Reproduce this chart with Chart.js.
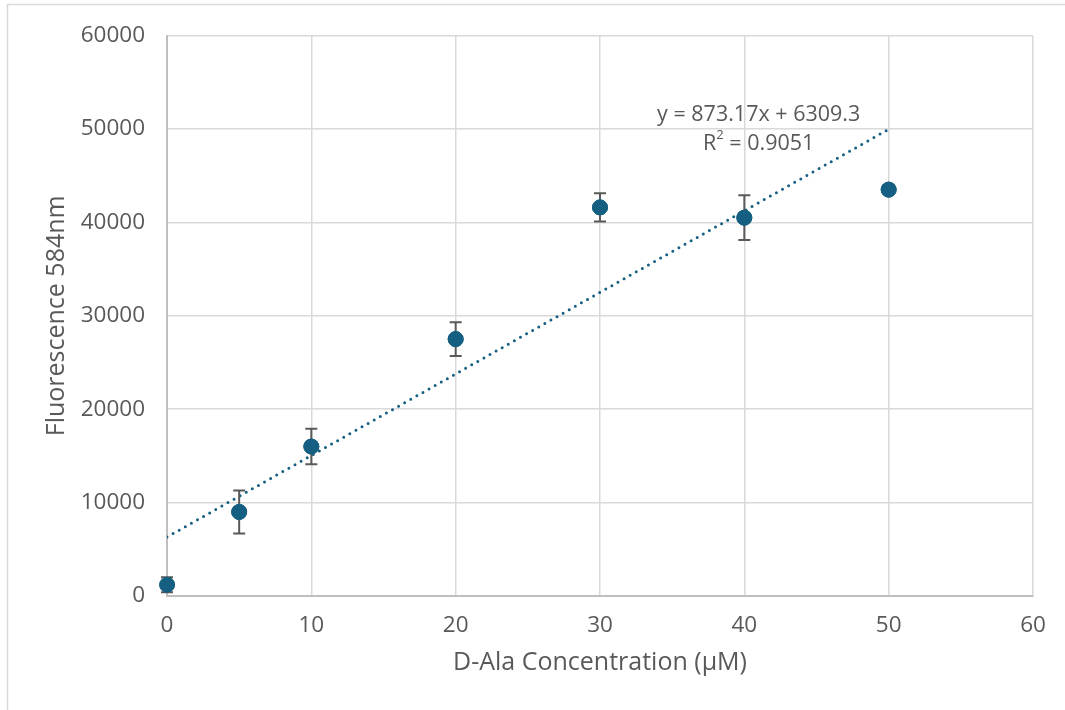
<!DOCTYPE html>
<html>
<head>
<meta charset="utf-8">
<script src="https://cdn.jsdelivr.net/npm/chart.js@4.4.1/dist/chart.umd.min.js"></script>
<style>
  html, body { margin: 0; padding: 0; background: #ffffff; }
  #wrap { width: 1065px; height: 710px; position: relative; }
</style>
</head>
<body>
<div id="wrap"><canvas id="c" width="1065" height="710"></canvas></div>
<script>
// ---- data ----
const concentrations = [0, 5, 10, 20, 30, 40, 50];
const fluorescence   = [1200, 9000, 16000, 27500, 41600, 40500, 43500];
const errors         = [800, 2300, 1900, 1800, 1500, 2400, 0];
const xTicks = [0, 10, 20, 30, 40, 50, 60];
const yTicks = [0, 10000, 20000, 30000, 40000, 50000, 60000];
const trendSlope = 873.17;
const trendIntercept = 6309.3;
const trendRange = [0, 50];
const trendEquation = "y = 873.17x + 6309.3";
const trendR2 = "0.9051";
const xTitle = "D-Ala Concentration (µM)";
const yTitle = "Fluorescence 584nm";

const FONT = "'Open Sans', 'Liberation Sans', sans-serif";
const TEXT = "#595959";
const BLUE = "#156082";

const points = concentrations.map((x, i) => ({ x: x, y: fluorescence[i] }));
const trendPoints = trendRange.map(x => ({ x: x, y: trendSlope * x + trendIntercept }));

const framePlugin = {
  id: 'frame',
  beforeDraw(chart) {
    const ctx = chart.ctx;
    ctx.save();
    ctx.fillStyle = '#ffffff';
    ctx.fillRect(0, 0, chart.width, chart.height);
    ctx.strokeStyle = '#d9d9d9';
    ctx.lineWidth = 1.5;
    ctx.beginPath();
    ctx.moveTo(7.5, chart.height);
    ctx.lineTo(7.5, 4.5);
    ctx.lineTo(chart.width, 4.5);
    ctx.stroke();
    ctx.restore();
  }
};

const errorBarPlugin = {
  id: 'errorBars',
  afterDatasetsDraw(chart) {
    const ctx = chart.ctx;
    const xs = chart.scales.x, ys = chart.scales.y;
    ctx.save();
    ctx.strokeStyle = '#595959';
    ctx.lineWidth = 2;
    concentrations.forEach((c, i) => {
      const e = errors[i];
      if (!e) return;
      const px = xs.getPixelForValue(c);
      const top = ys.getPixelForValue(fluorescence[i] + e);
      const bot = ys.getPixelForValue(Math.max(0, fluorescence[i] - e));
      ctx.beginPath();
      ctx.moveTo(px, top); ctx.lineTo(px, bot);
      ctx.moveTo(px - 6, top); ctx.lineTo(px + 6, top);
      ctx.moveTo(px - 6, bot); ctx.lineTo(px + 6, bot);
      ctx.stroke();
    });
    // redraw points over error bars
    const meta = chart.getDatasetMeta(1);
    meta.data.forEach(el => el.draw(ctx));
    ctx.restore();
  }
};

const trendLabelPlugin = {
  id: 'trendLabel',
  afterDraw(chart) {
    const ctx = chart.ctx;
    const xs = chart.scales.x, ys = chart.scales.y;
    const cx = xs.getPixelForValue(trendRange[1]) - 130;
    const cy = ys.getPixelForValue(trendSlope * trendRange[1] + trendIntercept) - 14;
    const big = "21.5px " + FONT, small = "13px " + FONT;
    ctx.save();
    ctx.fillStyle = TEXT;
    ctx.font = big;
    ctx.textBaseline = 'middle';
    ctx.textAlign = 'center';
    ctx.fillText(trendEquation, cx, cy);
    // R² line
    const rest = " = " + trendR2;
    ctx.font = big;
    const wR = ctx.measureText("R").width;
    const wRest = ctx.measureText(rest).width;
    ctx.font = small;
    const w2 = ctx.measureText("2").width;
    const total = wR + w2 + wRest;
    let x0 = cx - total / 2;
    const y2 = cy + 29;
    ctx.textAlign = 'left';
    ctx.font = big;
    ctx.fillText("R", x0, y2);
    ctx.font = small;
    ctx.fillText("2", x0 + wR, y2 - 9);
    ctx.font = big;
    ctx.fillText(rest, x0 + wR + w2, y2);
    ctx.restore();
  }
};

new Chart(document.getElementById('c'), {
  type: 'scatter',
  data: {
    datasets: [
      {
        label: 'Trend',
        type: 'line',
        data: trendPoints,
        borderColor: BLUE,
        borderWidth: 3,
        borderDash: [0, 7],
        borderCapStyle: 'round',
        pointRadius: 0,
        fill: false,
        order: 2
      },
      {
        label: 'Fluorescence',
        data: points,
        backgroundColor: BLUE,
        borderColor: BLUE,
        pointRadius: 7.5,
        pointHoverRadius: 7.5,
        order: 1
      }
    ]
  },
  options: {
    responsive: false,
    animation: false,
    layout: { padding: { top: 33, right: 32, left: 0, bottom: 0 } },
    plugins: {
      legend: { display: false },
      tooltip: { enabled: false }
    },
    scales: {
      x: {
        type: 'linear',
        min: xTicks[0], max: xTicks[xTicks.length - 1],
        afterBuildTicks(s) { s.ticks = xTicks.map(v => ({ value: v })); },
        afterFit(s) { s.height = 114; },
        grid: { color: '#d9d9d9', lineWidth: 1.5, drawTicks: false },
        border: { color: '#bfbfbf', width: 2 },
        ticks: { color: TEXT, font: { family: FONT, size: 22.5 }, padding: 16 },
        title: { display: true, text: xTitle, color: TEXT, font: { family: FONT, size: 25 }, padding: { top: 0, bottom: 32 } }
      },
      y: {
        type: 'linear',
        min: yTicks[0], max: yTicks[yTicks.length - 1],
        afterBuildTicks(s) { s.ticks = yTicks.map(v => ({ value: v })); },
        afterFit(s) { s.width = 167; },
        grid: { color: '#d9d9d9', lineWidth: 1.5, drawTicks: false },
        border: { color: '#bfbfbf', width: 2 },
        ticks: { color: TEXT, font: { family: FONT, size: 22.5 }, padding: 22, callback: v => String(v) },
        title: { display: true, text: yTitle, color: TEXT, font: { family: FONT, size: 25 }, padding: { top: 42, bottom: 0 } }
      }
    }
  },
  plugins: [framePlugin, errorBarPlugin, trendLabelPlugin]
});
</script>
</body>
</html>
